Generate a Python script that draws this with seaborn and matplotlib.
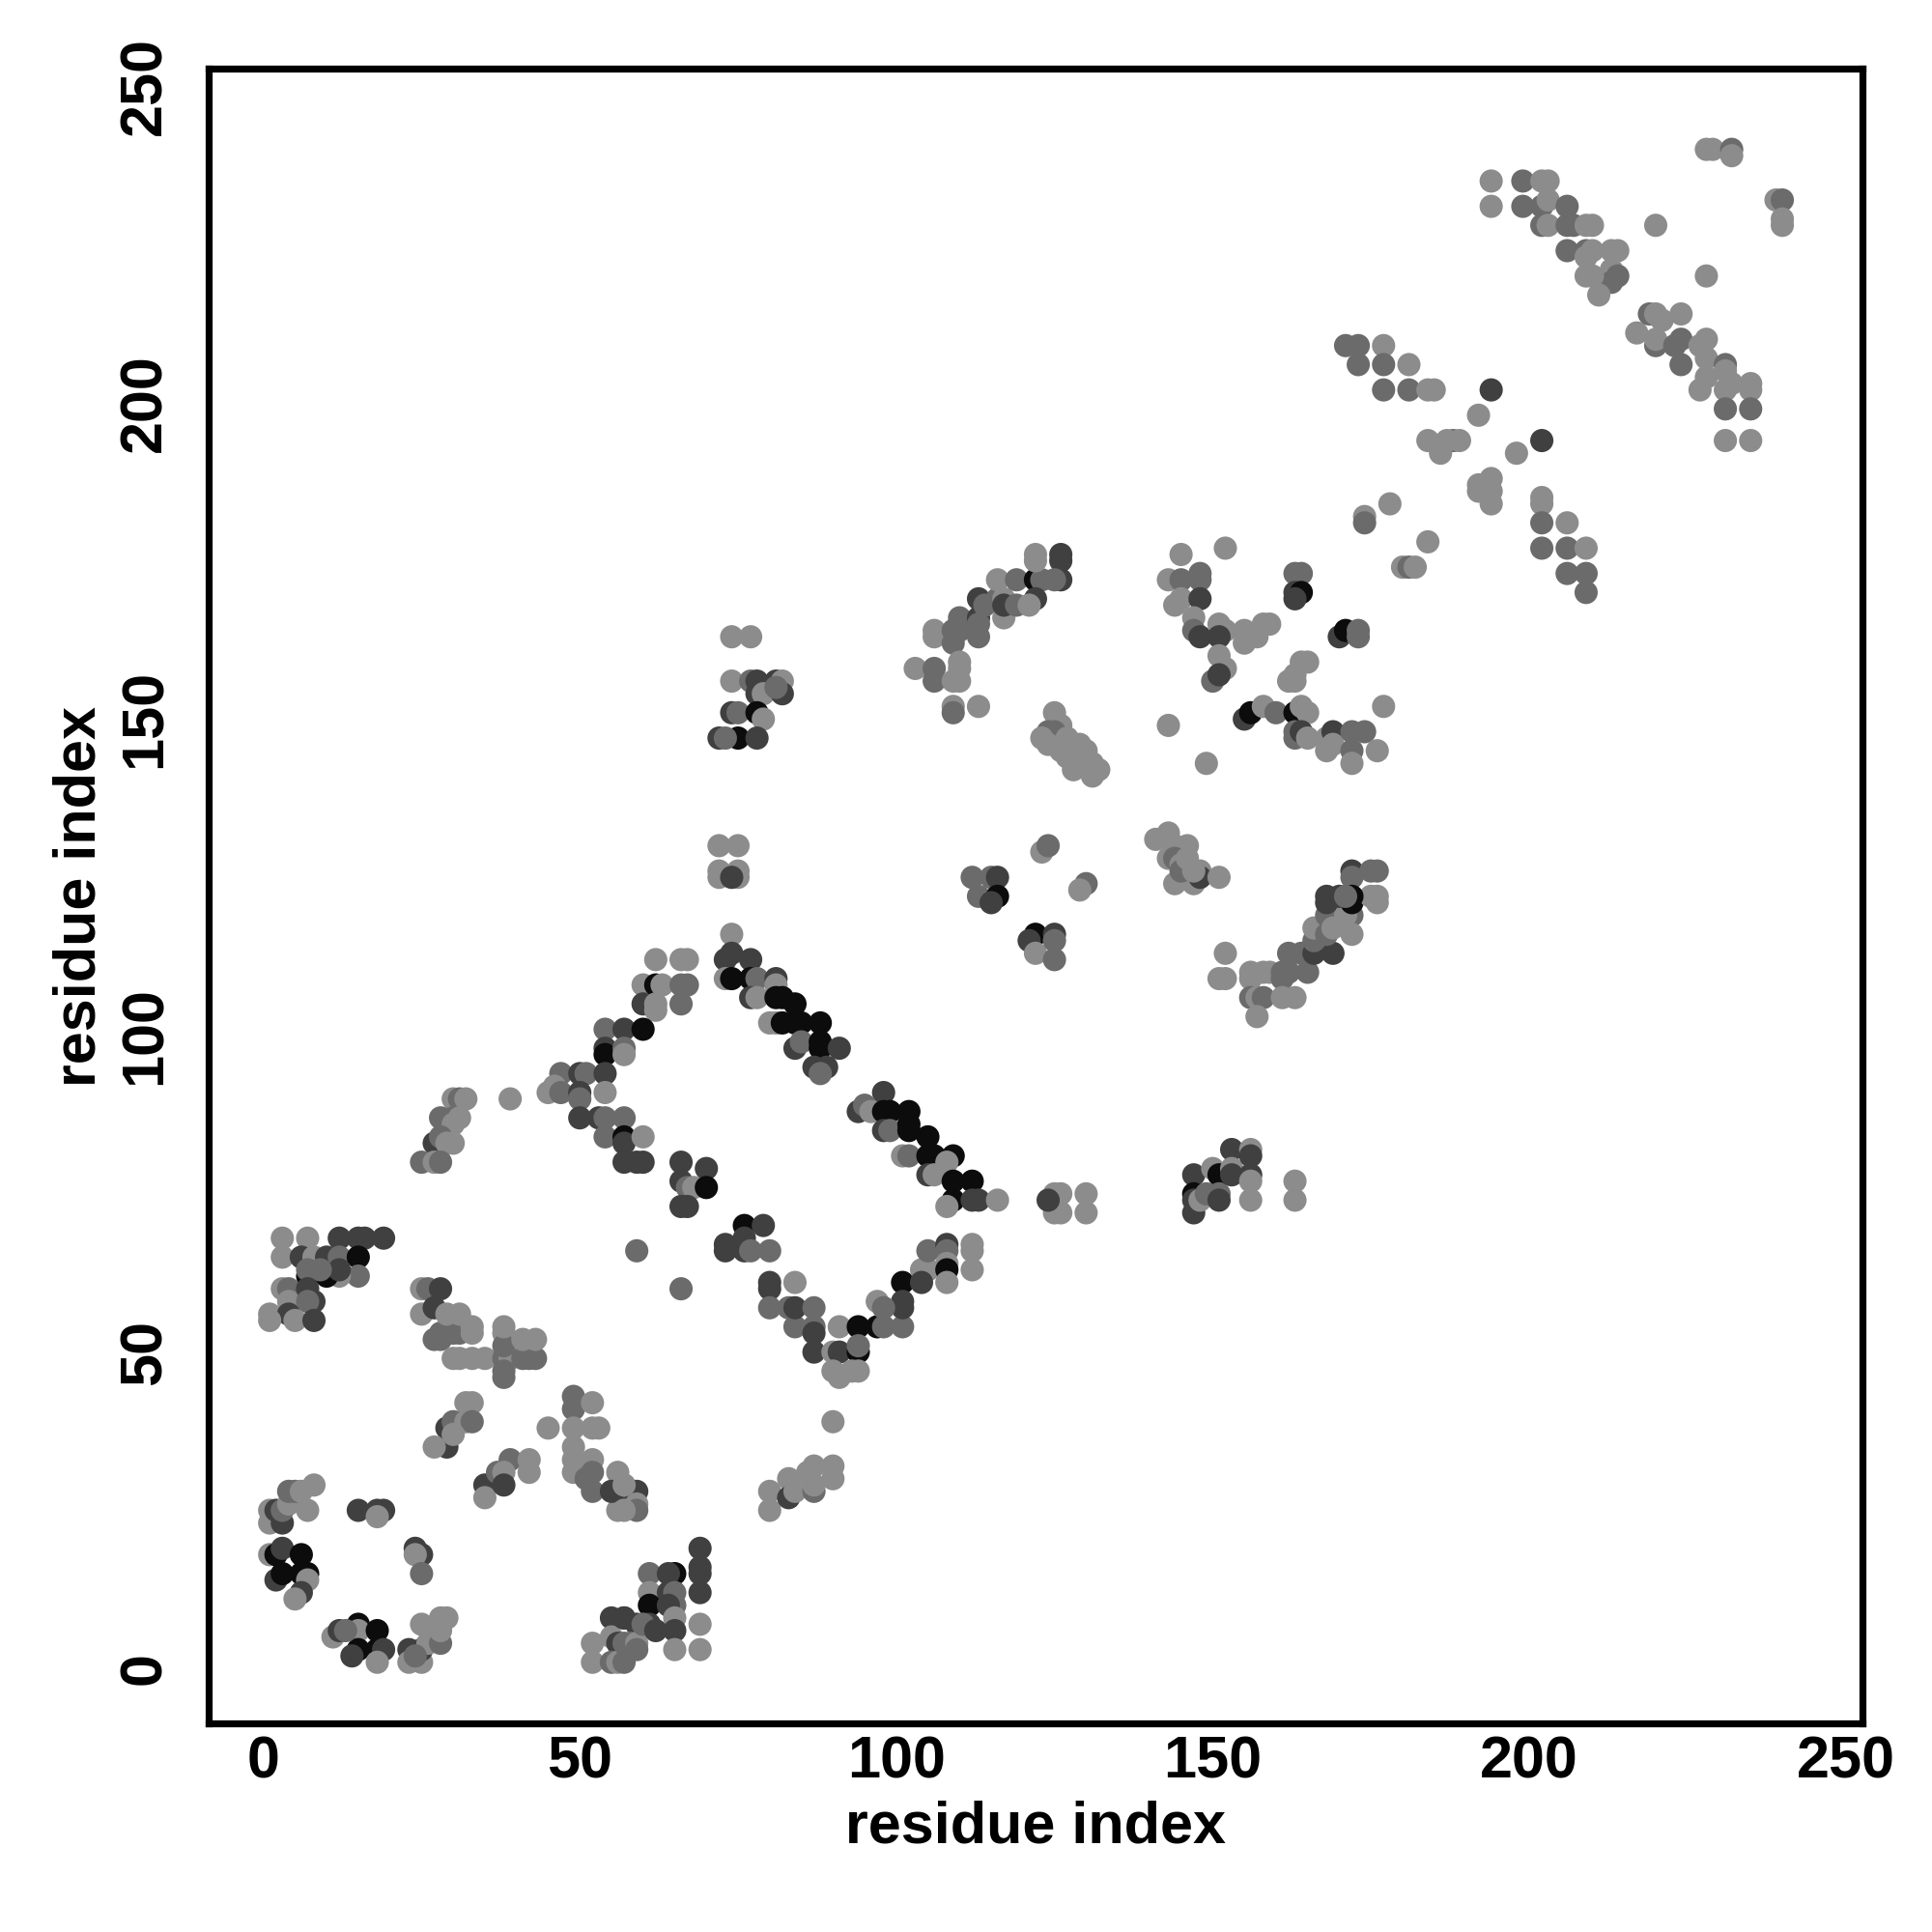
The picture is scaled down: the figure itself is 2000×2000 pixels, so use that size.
import pandas as pd
import matplotlib
matplotlib.use('Agg')
import matplotlib.pyplot as plt
import seaborn as sns

# contact points (i, j, shade), grouped by region
# shade: L light grey, M medium grey, D dark grey, B black
corner_a = [(1,18,'L'),(2,18,'B'),(3,19,'D'),(6,18,'B'),(2,14,'D'),(3,15,'B'),(6,15,'B'),(7,15,'B'),(7,14,'L'),(6,12,'D'),(5,11,'L'),
            (1,25,'L'),(1,23,'L'),(2,25,'D'),(3,23,'D'),(3,25,'M'),(4,26,'L'),(4,28,'M'),(5,28,'M'),(8,29,'L'),(7,25,'L'),(6,28,'L'),
            (15,25,'D'),(18,25,'D'),(19,25,'D'),(18,24,'L'),
            (24,19,'D'),(25,18,'D'),(24,18,'L'),(25,15,'M'),
            (11,5,'L'),(12,6,'D'),(15,7,'B'),(15,6,'L'),(18,6,'B'),(15,3,'B'),(18,3,'B'),(19,3,'D'),(14,2,'D'),(18,1,'L'),(13,6,'M'),
            (23,3,'D'),(23,1,'L'),(25,1,'L'),(25,3,'D'),(25,7,'L'),(26,4,'L'),(28,4,'M'),(28,8,'L'),(29,8,'L'),(28,6,'L'),(24,2,'M')]

block_b = [(28,53,'M'),(29,53,'M'),(30,53,'M'),(31,53,'M'),(33,53,'L'),(28,52,'M'),(27,52,'M'),
           (30,49,'L'),(31,49,'L'),(33,49,'L'),(35,49,'L'),(38,49,'M'),(39,49,'L'),(41,49,'M'),(42,49,'M'),(43,49,'M'),
           (38,53,'L'),(38,51,'M'),(41,52,'L'),(43,52,'L'),(38,46,'M'),(38,47,'M'),
           (32,42,'L'),(33,42,'L'),(29,38,'D'),(30,39,'M'),(32,39,'L'),(33,39,'M'),(29,35,'D'),(27,35,'L'),(30,37,'L'),
           (35,29,'D'),(35,27,'L'),(37,31,'M'),(39,33,'M'),(38,31,'L'),(38,29,'D'),(42,33,'L'),(42,31,'L'),
           (45,38,'L'),(49,43,'M'),(49,41,'M'),(49,38,'L'),(52,42,'L'),(52,38,'L'),(53,38,'L'),
           (49,35,'L'),(49,33,'L'),(49,31,'L'),(52,33,'L'),(52,31,'M'),(52,28,'M'),(51,30,'M'),(56,31,'L'),(56,28,'D'),(57,29,'L'),(56,25,'L'),(55,28,'D'),
           (52,4,'L'),(52,1,'L'),(55,8,'D'),(55,5,'L'),(56,4,'D'),(55,1,'M'),(56,1,'L'),(57,8,'D'),(57,4,'M')]

block_c = [(84,54,'M'),(87,54,'M'),(87,53,'D'),(91,54,'L'),(94,54,'B'),(97,54,'B'),(98,54,'M'),(101,54,'M'),
           (87,50,'D'),(90,50,'L'),(91,50,'D'),(94,50,'B'),(94,51,'M'),(90,47,'L'),(91,46,'L'),(94,47,'L'),(93,47,'L'),
           (90,39,'L'),
           (80,28,'L'),(80,25,'L'),(83,30,'L'),(83,27,'D'),(84,28,'L'),(86,31,'L'),(87,32,'L'),(87,28,'M'),(90,32,'L'),(90,30,'L'),(87,29,'L'),
           (59,28,'D'),(59,26,'L'),(59,25,'M'),(57,29,'L'),(57,25,'L'),
           (69,19,'D'),(69,16,'D'),(69,15,'D'),(69,12,'D'),(61,15,'M'),(65,15,'B'),(64,15,'D'),(61,12,'L'),(64,12,'D'),(65,12,'M'),
           (61,10,'B'),(65,10,'M'),(64,10,'D'),(61,7,'D'),(65,8,'L'),(65,6,'D'),(69,7,'L'),(57,8,'D'),(59,7,'D'),(58,4,'M'),
           (59,4,'L'),(59,3,'M'),(65,3,'L'),(69,3,'L'),(57,1,'M'),(60,7,'M'),(62,6,'D')]

block_d = [(54,101,'M'),(57,101,'D'),(54,98,'D'),(54,97,'B'),(57,98,'M'),(57,97,'L'),
           (47,94,'M'),(46,92,'L'),(45,91,'L'),(47,91,'M'),(50,94,'D'),(51,94,'M'),(54,94,'D'),(50,91,'D'),(50,90,'M'),(54,91,'L'),
           (50,87,'D'),(53,87,'D'),(54,87,'M'),(57,87,'M'),(54,84,'M'),(57,84,'B'),(57,83,'D'),(57,80,'D'),
           (30,90,'L'),(31,90,'M'),(32,90,'L'),(39,90,'L'),
           (28,87,'M'),(30,87,'M'),(31,87,'L'),(30,86,'L'),
           (27,83,'D'),(28,84,'M'),(29,83,'L'),(30,83,'L'),
           (25,80,'M'),(27,80,'L'),(28,80,'M'),
           (3,68,'L'),(7,68,'L'),(12,68,'D'),(15,68,'D'),(16,68,'D'),(19,68,'D'),
           (3,65,'L'),(6,65,'D'),(8,65,'L'),(10,65,'D'),(12,65,'M'),(15,65,'B'),(15,62,'M'),(12,62,'L'),(10,62,'B'),(7,62,'B'),(7,63,'M'),(12,63,'D'),(9,63,'M'),
           (3,60,'L'),(4,60,'M'),(4,58,'L'),(7,60,'D'),(8,58,'D'),(7,58,'M'),(1,56,'L'),(4,56,'D'),(5,55,'L'),(8,55,'D'),(1,55,'L'),
           (25,60,'L'),(26,60,'M'),(28,60,'D'),(25,56,'L'),(27,57,'D'),(29,56,'L'),(31,56,'L'),(33,54,'L'),(38,54,'L')]

block_e = [(74,116,'L'),(74,113,'D'),(73,112,'D'),(77,112,'D'),(73,109,'L'),(74,109,'B'),(77,109,'B'),(78,109,'M'),(81,109,'D'),(81,108,'L'),
           (77,106,'D'),(78,106,'L'),(81,106,'B'),(82,106,'B'),(84,105,'B'),(80,102,'L'),(81,102,'L'),(82,102,'B'),(84,102,'B'),(85,102,'B'),
           (88,102,'B'),(84,98,'D'),(85,99,'M'),(88,98,'B'),(88,99,'B'),(91,98,'D'),(87,95,'D'),(89,95,'D'),(88,94,'M'),
           (62,112,'L'),(66,112,'L'),(67,112,'L'),(60,108,'L'),(62,108,'B'),(63,108,'L'),(66,108,'M'),(67,108,'M'),(60,105,'D'),(62,105,'L'),
           (62,104,'L'),(66,105,'M'),(60,101,'B'),
           (98,91,'D'),(94,88,'D'),(95,89,'M'),(96,88,'L'),(98,88,'B'),(99,88,'B'),(102,88,'B'),(98,85,'D'),(99,85,'M'),(102,85,'B'),
           (102,86,'B'),(105,84,'B'),(101,81,'L'),(102,81,'M'),(105,81,'B'),(106,81,'B'),(109,81,'B'),(108,80,'L'),(105,78,'D'),(106,78,'L'),
           (109,77,'B'),(112,77,'B'),(109,74,'B'),(108,73,'L'),(112,74,'D'),(113,74,'D'),(116,74,'L'),
           (122,116,'B'),(121,115,'D'),(122,113,'L'),(125,116,'D'),(125,115,'M'),(125,112,'M'),
           (60,84,'L'),(59,80,'D'),(60,80,'D'),
           (66,80,'D'),(70,79,'D'),(66,77,'D'),(67,76,'M'),(68,76,'L'),(70,76,'B'),(66,73,'D'),(67,73,'D'),
           (76,70,'B'),(79,70,'D'),(76,68,'D'),(73,67,'D'),(73,66,'D'),(76,66,'D'),(77,66,'M'),(80,66,'M'),
           (59,66,'M'),(66,60,'M'),
           (80,61,'D'),(80,60,'D'),(84,61,'L'),(80,57,'M'),(83,57,'M'),(84,57,'D'),(87,57,'M'),
           (101,61,'B'),(101,58,'D'),(101,57,'D'),(97,58,'L'),(98,57,'M'),(104,63,'L'),(105,63,'L'),(105,66,'M'),(104,61,'D'),
           (108,67,'D'),(108,66,'M'),(108,64,'L'),(108,63,'B'),(108,61,'L'),(112,67,'L'),(112,66,'L'),(112,63,'L')]

block_f = [(152,113,'L'),(151,109,'L'),(152,109,'L'),(156,110,'L'),(158,110,'L'),(159,110,'L'),(156,109,'L'),(156,106,'M'),(157,106,'L'),
           (158,106,'M'),(157,103,'L'),(161,110,'M'),(162,110,'M'),(165,110,'M'),(161,109,'M'),(161,106,'L'),(163,106,'L'),(162,113,'M'),
           (164,113,'M'),(166,113,'D'),(169,113,'D'),(166,115,'M'),(166,117,'L'),(168,119,'M'),(168,116,'M'),(169,117,'L'),(172,119,'M'),
           (172,116,'L'),(171,119,'L'),(176,121,'L'),(172,121,'B'),(168,121,'D'),
           (147,78,'D'),(147,75,'B'),(147,74,'D'),(147,72,'D'),(148,74,'L'),(150,79,'L'),(151,78,'B'),(149,75,'M'),(151,75,'M'),(151,74,'D'),
           (153,82,'D'),(156,82,'L'),(153,79,'L'),(153,78,'D'),(156,78,'D'),(156,81,'D'),(156,77,'L'),(156,74,'L'),(163,77,'L'),(163,74,'L'),
           (125,75,'L'),(126,75,'L'),(125,72,'L'),(126,72,'L'),(130,75,'L'),(130,72,'L'),(124,74,'D')]

block_g = [(74,163,'L'),(77,163,'L'),
           (74,156,'L'),(77,156,'M'),(78,156,'D'),(81,156,'D'),(82,156,'L'),(78,154,'D'),(79,154,'L'),(82,154,'D'),(81,155,'M'),
           (74,151,'D'),(75,151,'M'),(78,151,'B'),(79,150,'L'),(72,147,'D'),(75,147,'B'),(78,147,'D'),(73,147,'M'),
           (72,130,'L'),(75,130,'L'),(72,126,'L'),(75,126,'L'),(72,125,'L'),(75,125,'L'),(74,125,'D'),
           (112,125,'M'),(115,125,'M'),(116,125,'D'),(113,122,'M'),(116,122,'B'),(115,121,'D'),
           (123,129,'L'),(124,130,'M'),
           (103,158,'L'),(106,164,'L'),(106,163,'L'),(106,158,'M'),(106,156,'M'),(109,164,'M'),(110,164,'M'),(109,162,'M'),(110,166,'M'),
           (110,159,'L'),(110,158,'L'),(109,156,'L'),(110,156,'L'),(109,152,'L'),(109,151,'M'),(113,152,'L'),(113,169,'D'),(113,166,'D'),
           (113,165,'M'),(113,163,'M'),(114,168,'M'),(116,169,'M'),(116,172,'L'),(117,169,'L'),(117,166,'L'),(117,168,'D'),(119,172,'M'),
           (119,168,'M'),(122,172,'B'),(123,172,'M'),(122,176,'L'),(122,175,'L'),(122,169,'D'),(121,168,'L')]

block_h = [(126,176,'D'),(126,175,'D'),(126,172,'D'),(125,172,'M'),
           (145,176,'L'),(152,177,'L'),(143,172,'L'),(145,172,'M'),(148,173,'M'),(148,172,'M'),(144,168,'L'),(145,169,'L'),(148,169,'D'),
           (147,166,'L'),(147,164,'M'),(148,163,'D'),(151,165,'L'),(152,164,'L'),(151,163,'D'),(151,160,'L'),(152,158,'L'),(150,156,'M'),
           (151,157,'D'),(155,164,'L'),(155,162,'L'),(157,163,'L'),(159,165,'L'),(158,165,'L'),
           (163,157,'L'),(162,156,'L'),(164,159,'L'),(165,159,'L'),(163,156,'L'),
           (163,173,'M'),(164,173,'M'),(163,170,'D'),(164,170,'B'),(163,169,'D'),
           (170,163,'D'),(171,164,'B'),(173,164,'M'),(173,163,'M'),
           (174,182,'L'),(174,181,'M'),(178,184,'L'),(180,174,'L'),(181,174,'M'),(182,174,'L'),(184,178,'L'),
           (155,150,'D'),(156,151,'B'),(158,152,'L'),(160,151,'M'),(163,151,'B'),(164,152,'L'),(165,151,'L'),(163,148,'M'),(163,147,'M'),
           (164,148,'D'),(165,147,'L'),(168,147,'L'),(168,145,'L'),(169,148,'D'),(169,146,'L'),(172,148,'M'),(174,148,'M'),(172,145,'M'),
           (172,143,'L'),(176,145,'L'),(177,152,'L'),
           (143,149,'L'),(149,143,'L'),
           (125,151,'L'),(126,149,'L'),(124,148,'M'),(125,148,'M'),(126,147,'M'),(127,147,'L'),(128,146,'L'),(129,146,'L'),(130,145,'L'),
           (129,144,'L'),(130,144,'L'),(131,143,'L'),(131,141,'L'),(128,142,'L'),(124,146,'L'),(126,145,'L'),(127,144,'L'),(123,147,'L'),(132,142,'L'),
           (130,124,'M'),(129,123,'L'),
           (143,132,'L'),(141,131,'L'),(144,130,'L'),(146,130,'L'),(143,128,'L'),(144,128,'M'),(145,127,'L'),(146,127,'L'),(144,124,'L'),
           (147,124,'L'),(148,126,'L'),(148,125,'D'),(151,125,'L'),(145,126,'M'),(146,128,'L'),(147,126,'L'),
           (172,126,'D'),(172,125,'M'),(175,126,'M'),(176,126,'M'),(175,122,'L'),(176,122,'L'),(168,122,'D'),(170,122,'D'),(172,122,'B'),(171,122,'M')]

block_i = [(192,186,'L'),(194,186,'L'),(194,184,'L'),(202,185,'L'),(202,184,'L'),(202,181,'M'),(206,181,'L'),(202,177,'M'),(206,177,'M'),
           (209,177,'L'),(206,173,'M'),(209,173,'M'),(209,170,'M')]

block_j = [(171,209,'M'),(173,209,'M'),(177,209,'L'),(173,206,'M'),(177,206,'M'),(181,206,'L'),(177,202,'M'),(181,202,'M'),(184,202,'L'),
           (185,202,'L'),(184,194,'L'),(188,194,'M'),(187,194,'L'),(186,192,'L')]

block_k = [(194,235,'L'),(199,235,'M'),(202,235,'L'),(203,235,'L'),(194,231,'L'),(199,231,'M'),(202,231,'M'),(203,232,'L'),(206,231,'M'),
           (202,228,'M'),(203,228,'L'),(206,228,'M'),(207,228,'M'),(209,228,'L'),(210,228,'L'),(206,224,'M'),(209,224,'M'),(210,224,'L'),
           (213,224,'L'),(214,224,'L'),(209,223,'L'),(213,221,'L'),(214,220,'M'),(213,219,'M'),(209,220,'L'),(210,220,'L'),(211,217,'L'),
           (220,228,'L'),(228,220,'L'),(217,211,'L'),(219,214,'M'),(220,214,'L'),(221,213,'L'),(224,214,'L'),(220,209,'M'),(220,210,'L'),
           (223,209,'M'),(224,210,'M'),(227,209,'L'),(228,210,'L'),(228,207,'L'),(224,206,'M'),(231,206,'M'),(231,205,'L'),(228,204,'L'),
           (227,202,'L'),(231,202,'L'),(232,203,'L'),(235,203,'L'),(235,202,'L'),(231,199,'M'),(235,199,'M'),(231,194,'L'),(235,194,'L'),
           (228,240,'L'),(229,240,'L'),(232,240,'M'),(232,239,'L'),(239,232,'L'),(240,232,'M'),(240,229,'L'),(240,228,'L'),
           (194,202,'D'),(192,198,'L'),(189,194,'L'),(202,194,'D'),(198,192,'L'),(194,188,'L'),(193,187,'L'),(192,187,'L')]

shade_colors = {'L': '#8c8c8c', 'M': '#6b6b6b', 'D': '#404040', 'B': '#0c0c0c'}

blocks = [corner_a, block_b, block_c, block_d, block_e, block_f, block_g, block_h, block_i, block_j, block_k]
rows = [p for b in blocks for p in b]
df = pd.DataFrame(rows, columns=['i', 'j', 'shade'])

sns.set_style('white')
plt.rcParams['font.family'] = ['Liberation Sans', 'DejaVu Sans']
plt.rcParams['font.weight'] = 'bold'
plt.rcParams['text.color'] = 'black'
plt.rcParams['axes.labelcolor'] = 'black'

fig = plt.figure(figsize=(10, 10), dpi=200)
ax = fig.add_axes([0.1078, 0.108, 0.856, 0.8563])

sns.scatterplot(data=df, x='i', y='j', hue='shade', palette=shade_colors,
                s=75, linewidth=0, legend=False, ax=ax)

ax.set_xlim(-8.7, 252.6)
ax.set_ylim(-8.65, 252.7)
ax.set_xticks([0, 50, 100, 150, 200, 250])
ax.set_yticks([0, 50, 100, 150, 200, 250])

for sp in ax.spines.values():
    sp.set_visible(True)
    sp.set_linewidth(2.6)
    sp.set_color('black')

ax.tick_params(axis='both', direction='out', length=3.0, width=1.2,
               colors='black', labelsize=22)
ax.tick_params(axis='x', pad=1.5)
ax.tick_params(axis='y', pad=10, labelrotation=90)
for lbl in ax.get_yticklabels():
    lbl.set_va('center')
    lbl.set_fontweight('bold')
for lbl in ax.get_xticklabels():
    lbl.set_fontweight('bold')

ax.set_xlabel('residue index', fontsize=22, fontweight='bold', color='black')
ax.set_ylabel('residue index', fontsize=22, fontweight='bold', color='black')
ax.xaxis.label.set_va('center')
ax.yaxis.label.set_va('center')
ax.xaxis.set_label_coords(0.5, -0.0631)
ax.yaxis.set_label_coords(-0.0774, 0.5)

fig.savefig('out.png', dpi=200, facecolor='white')
